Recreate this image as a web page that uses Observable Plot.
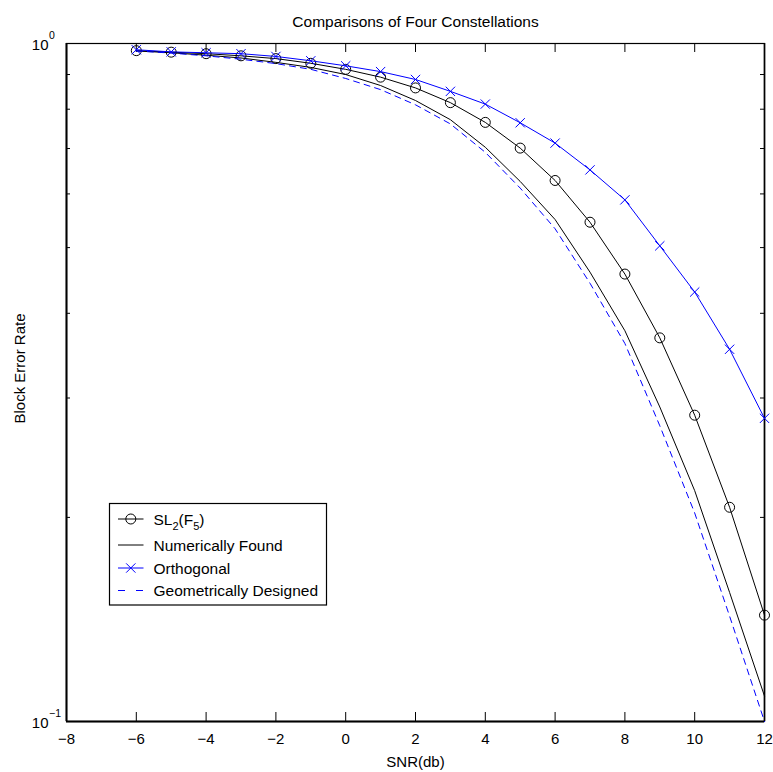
<!DOCTYPE html>
<html><head><meta charset="utf-8">
<script src="https://cdn.jsdelivr.net/npm/d3@7"></script>
<script src="https://cdn.jsdelivr.net/npm/@observablehq/plot@0.6"></script>
<style>body{margin:0;background:#fff} #chart svg{display:block}</style>
</head><body><div id="chart"></div><script>
// ---- data ----
const snr = [-6,-5,-4,-3,-2,-1,0,1,2,3,4,5,6,7,8,9,10,11,12];
const sl2 = [0.976,0.971,0.966,0.959,0.950,0.935,0.916,0.892,0.860,0.818,0.765,0.701,0.628,0.545,0.457,0.368,0.283,0.207,0.1435];
const numericallyFound = [0.975,0.969,0.961,0.952,0.938,0.922,0.900,0.867,0.824,0.772,0.703,0.626,0.550,0.460,0.377,0.291,0.219,0.155,0.109];
const orthogonal = [0.979,0.972,0.969,0.966,0.957,0.943,0.927,0.909,0.885,0.850,0.814,0.764,0.713,0.651,0.588,0.503,0.430,0.354,0.280];
const geometric = [0.975,0.968,0.959,0.948,0.934,0.916,0.888,0.855,0.812,0.761,0.691,0.612,0.533,0.443,0.361,0.273,0.203,0.143,0.100];
const xTicks = [-8,-6,-4,-2,0,2,4,6,8,10,12];
const yMinorTicks = [0.2,0.3,0.4,0.5,0.6,0.7,0.8,0.9];
const yDecades = [0.1, 1];
const yDecadeExp = ["\u22121", "0"];
const legendLabels = ["SL2(F5)", "Numerically Found", "Orthogonal", "Geometrically Designed"];
const titleText = "Comparisons of Four Constellations";
const xLabel = "SNR(db)";
const yLabel = "Block Error Rate";

const toRows = vals => snr.map((x, i) => ({x, y: vals[i]}));
const sl2Rows = toRows(sl2), numRows = toRows(numericallyFound), orthRows = toRows(orthogonal), geoRows = toRows(geometric);

const W = 773, H = 772, mL = 66, mR = 9, mT = 43, mB = 51;
const pW = W - mL - mR, pH = H - mT - mB;
const BLUE = "#0000ff";
const FONT = "'Liberation Sans', Arial, Helvetica, sans-serif";
const fmtX = d => d < 0 ? "\u2212" + (-d) : String(d);

const chart = Plot.plot({
  width: W, height: H,
  marginLeft: mL, marginRight: mR, marginTop: mT, marginBottom: mB,
  x: {domain: [-8, 12], axis: null},
  y: {type: "log", domain: [0.1, 1], axis: null},
  style: {fontFamily: FONT, fontSize: "15px", background: "white", color: "black", overflow: "visible"},
  marks: [
    Plot.frame({stroke: "black", strokeWidth: 1.2}),
    Plot.ruleY([0.1], {stroke: "black", strokeWidth: 2}),
    Plot.ruleX([-8], {stroke: "black", strokeWidth: 2}),
    Plot.ruleX([12], {stroke: "black", strokeWidth: 1.6}),
    Plot.tickX(xTicks, {x: d => d, insetTop: pH - 9, stroke: "black"}),
    Plot.tickX(xTicks, {x: d => d, insetBottom: pH - 9, stroke: "black"}),
    Plot.tickY(yMinorTicks, {y: d => d, insetRight: pW - 4, stroke: "black"}),
    Plot.tickY(yMinorTicks, {y: d => d, insetLeft: pW - 4, stroke: "black"}),
    Plot.text(xTicks, {x: d => d, text: fmtX, frameAnchor: "bottom", textAnchor: "middle", lineAnchor: "top", dy: 12, fontSize: 15}),
    Plot.text(yDecades, {y: d => d, text: () => "10", frameAnchor: "left", textAnchor: "end", lineAnchor: "middle", dx: -18, dy: 1.5, fontSize: 15}),
    Plot.text(yDecades, {y: d => d, text: (d, i) => yDecadeExp[i], frameAnchor: "left", textAnchor: "start", lineAnchor: "middle", dx: -17.5, dy: -7.5, fontSize: 10.5}),
    Plot.text([xLabel], {frameAnchor: "bottom", textAnchor: "middle", lineAnchor: "middle", dy: 41, fontSize: 15}),
    Plot.text([yLabel], {frameAnchor: "left", textAnchor: "middle", rotate: -90, lineAnchor: "middle", dx: -46, dy: -14, fontSize: 15}),
    Plot.text([titleText], {frameAnchor: "top", textAnchor: "middle", lineAnchor: "middle", dy: -21, fontSize: 15.5}),
    Plot.line(sl2Rows, {x: "x", y: "y", stroke: "black", strokeWidth: 1}),
    Plot.dot(sl2Rows, {x: "x", y: "y", r: 5, stroke: "black", fill: "none", strokeWidth: 1}),
    Plot.line(numRows, {x: "x", y: "y", stroke: "black", strokeWidth: 1}),
    Plot.line(orthRows, {x: "x", y: "y", stroke: BLUE, strokeWidth: 1}),
    Plot.dot(orthRows, {x: "x", y: "y", symbol: "times", r: 4.3, stroke: BLUE, strokeWidth: 1}),
    Plot.line(geoRows, {x: "x", y: "y", stroke: BLUE, strokeWidth: 1, strokeDasharray: "6,5"})
  ]
});
document.getElementById("chart").appendChild(chart);

// ---- legend (annotation) ----
const svg = d3.select(chart);
const lg = svg.append("g").attr("font-family", FONT).attr("font-size", 15.5)
  .attr("fill", "black").attr("text-anchor", "start");
lg.append("rect").attr("x", 109.5).attr("y", 503.5).attr("width", 217).attr("height", 101.5)
  .attr("fill", "white").attr("stroke", "black").attr("stroke-width", 1.2);
const rowY = [519, 545, 568, 590.5];
const specs = [
  {stroke: "black", dash: null, marker: "circle"},
  {stroke: "black", dash: null, marker: null},
  {stroke: BLUE, dash: null, marker: "times"},
  {stroke: BLUE, dash: "7,11", marker: null}
];
legendLabels.forEach((lab, i) => {
  const y = rowY[i], s = specs[i];
  lg.append("line").attr("x1", 118).attr("x2", 143.5).attr("y1", y).attr("y2", y)
    .attr("stroke", s.stroke).attr("stroke-width", 1).attr("stroke-dasharray", s.dash);
  if (s.marker === "circle") {
    lg.append("circle").attr("cx", 130.8).attr("cy", y).attr("r", 5).attr("fill", "none").attr("stroke", s.stroke);
  } else if (s.marker === "times") {
    lg.append("path").attr("d", d3.symbol(d3.symbolTimes, Math.PI * 4.3 * 4.3)())
      .attr("transform", `translate(130.8,${y})`).attr("fill", "none").attr("stroke", s.stroke);
  }
  const t = lg.append("text").attr("x", 153.5).attr("y", y + 5.5).attr("text-anchor", "start");
  if (i === 0) {
    t.append("tspan").text("SL");
    t.append("tspan").attr("font-size", 11).attr("dy", 5).text("2");
    t.append("tspan").attr("dy", -5).text("(F");
    t.append("tspan").attr("font-size", 11).attr("dy", 5).text("5");
    t.append("tspan").attr("dy", -5).text(")");
  } else {
    t.text(lab);
  }
});
</script></body></html>
